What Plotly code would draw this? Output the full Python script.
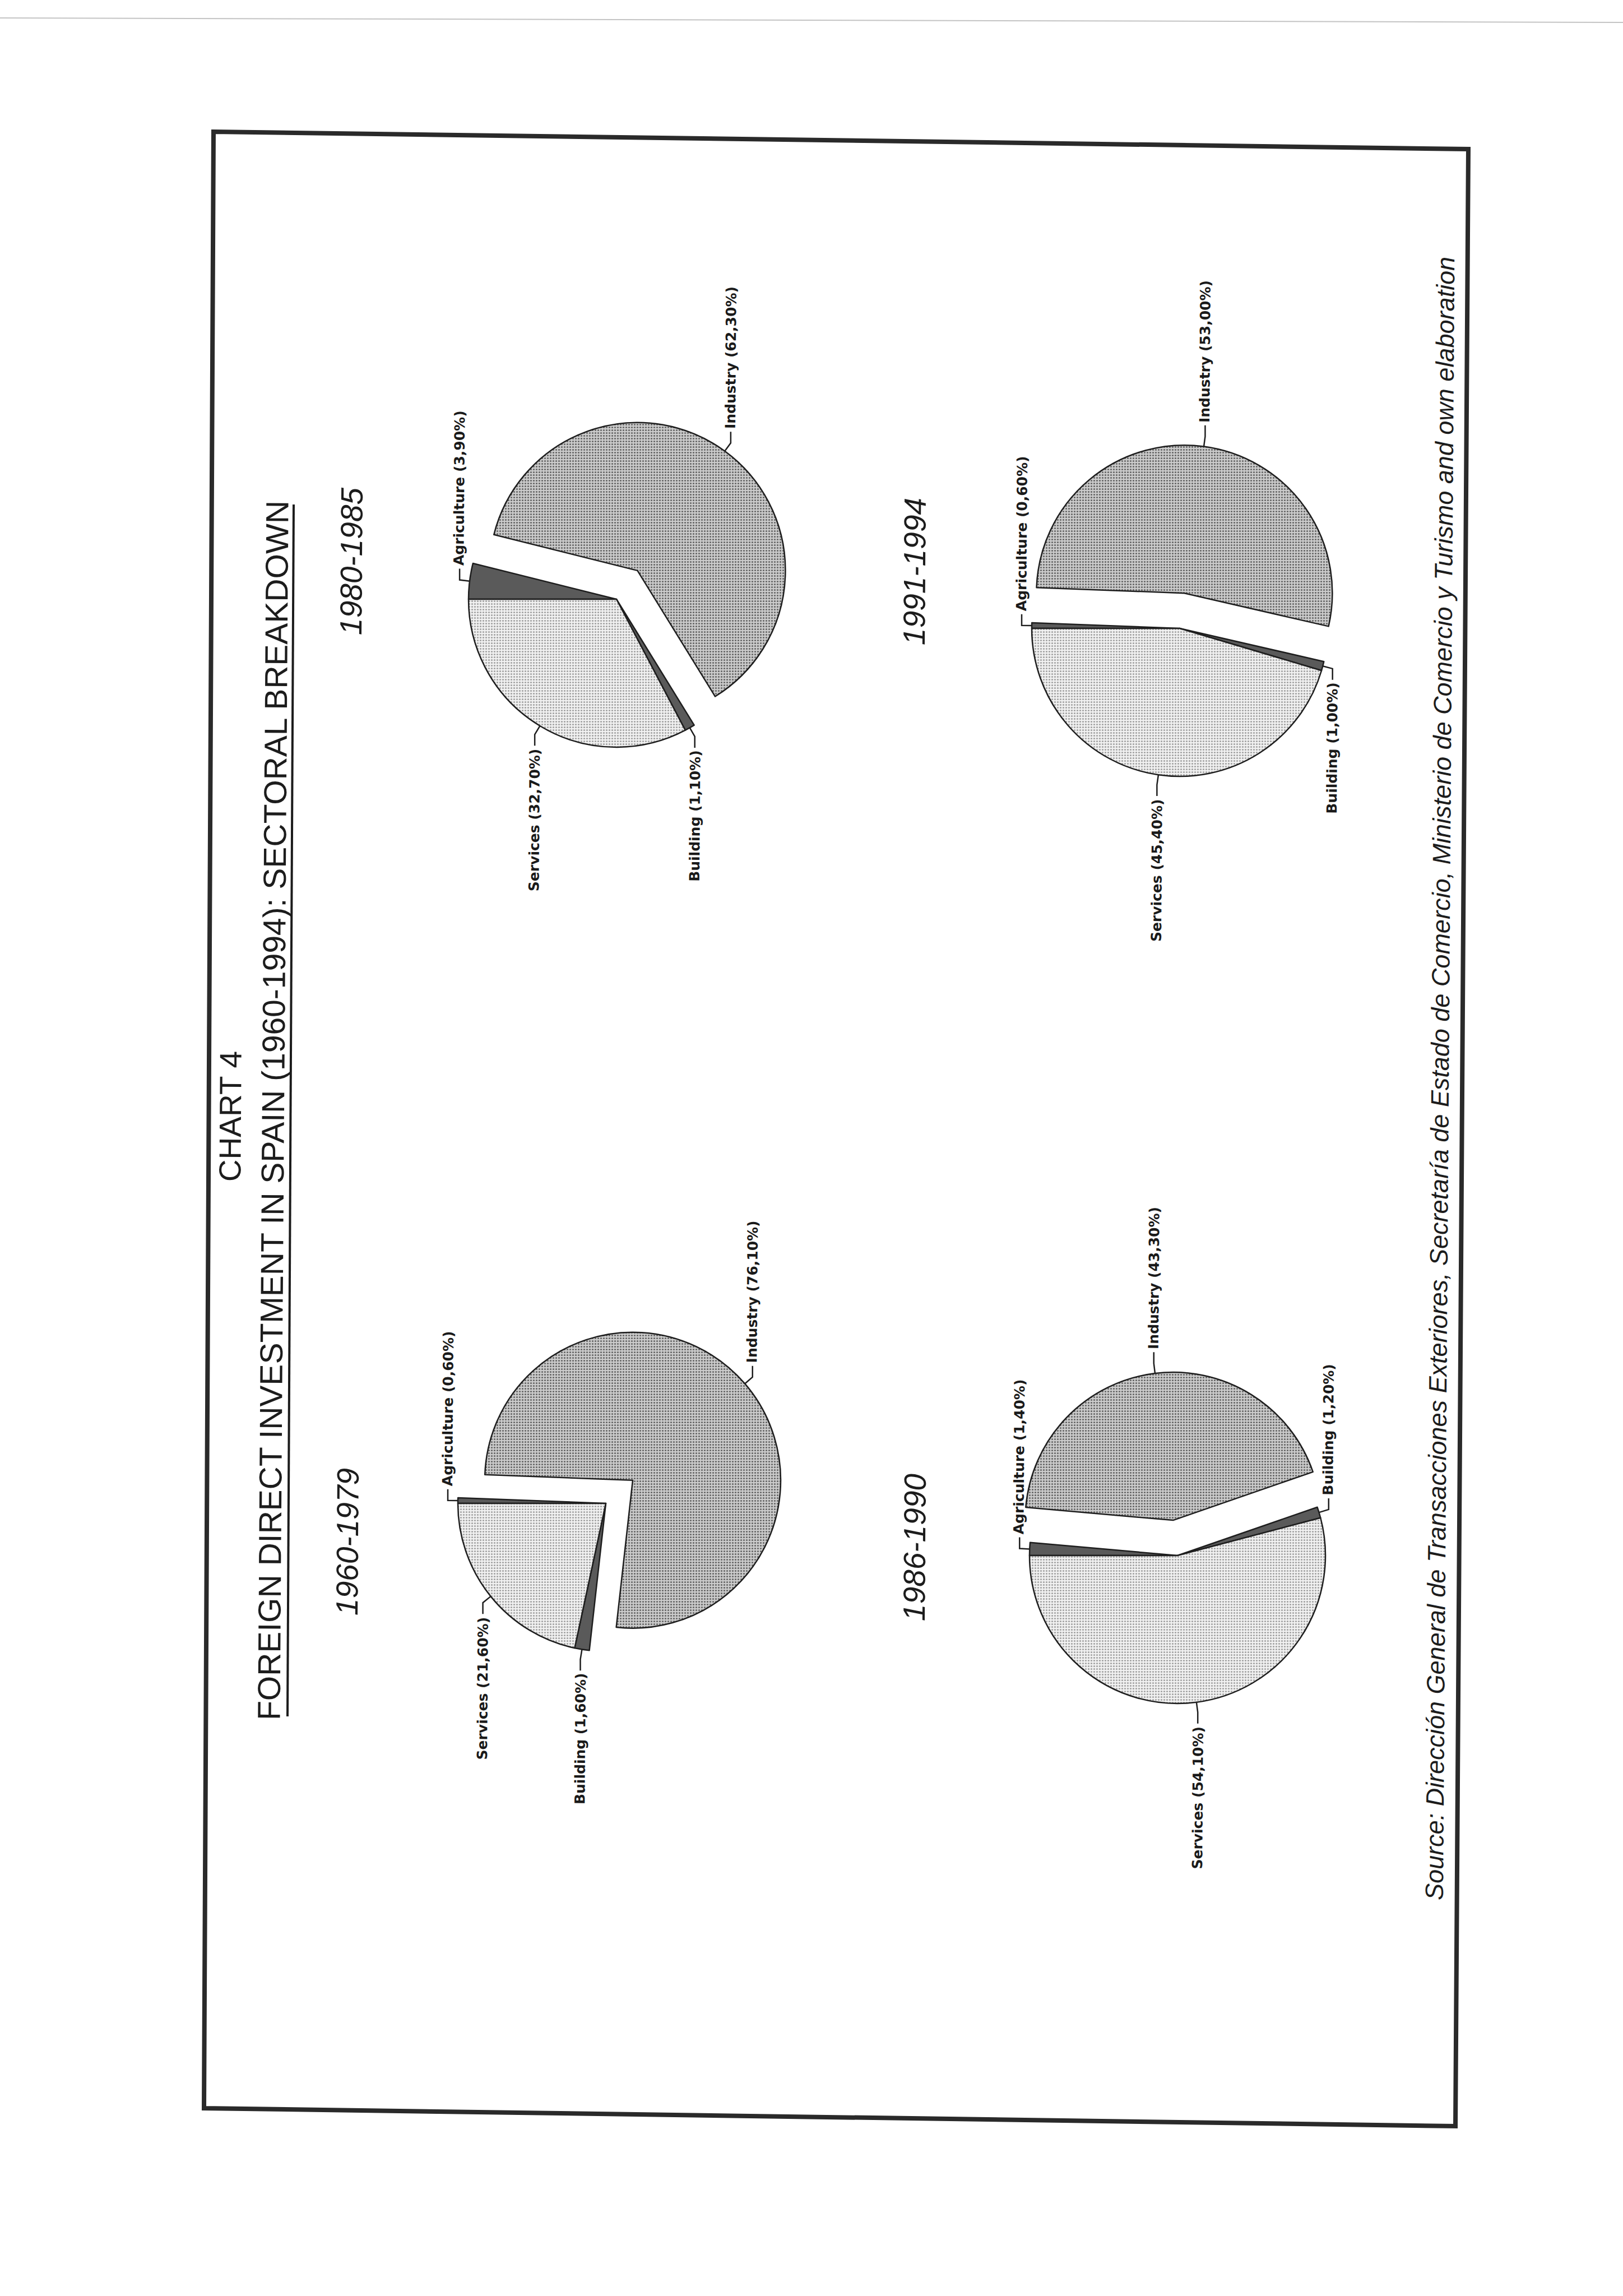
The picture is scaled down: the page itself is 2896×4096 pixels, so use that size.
import math
import plotly.graph_objects as go

W, H = 2896, 4096

# ---------------- data ----------------
periods = ["1960-1979", "1980-1985", "1986-1990", "1991-1994"]
sectors = ["Agriculture", "Industry", "Building", "Services"]
agriculture = [0.6, 3.9, 1.4, 0.6]
industry = [76.1, 62.3, 43.3, 53.0]
building = [1.6, 1.1, 1.2, 1.0]
services = [21.6, 32.7, 54.1, 45.4]

chart_no = "CHART 4"
title = "FOREIGN DIRECT INVESTMENT IN SPAIN (1960-1994): SECTORAL BREAKDOWN"
source = ("Source: Dirección General de Transacciones Exteriores, Secretaría de Estado de "
          "Comercio, Ministerio de Comercio y Turismo and own elaboration")

# ---------------- layout (output pixels, page is a rotated scan) ----------------
centers = [(1081, 2682), (1100, 1069), (2101, 2775), (2105, 1121)]
period_pos = [(620, 2751), (627, 1002), (1632, 2761), (1632, 1020)]
R = 264
PULL = 0.24
START = -90          # first slice starts at 9 o'clock on the page
TILT = -89.6         # text reads bottom-to-top
S1, S2, GAP = 18, 20, 3

def fx(x):
    return x / W

def fy(y):
    return 1 - y / H

fig = go.Figure()

col_fill = {"Agriculture": "#5a5a5a", "Industry": "#b8b8b8", "Building": "#5a5a5a", "Services": "#e4e4e4"}
pat_shape = {"Agriculture": "", "Industry": ".", "Building": "", "Services": "."}
pat_fg = {"Agriculture": "#5a5a5a", "Industry": "#626262", "Building": "#5a5a5a", "Services": "#a0a0a0"}
pat_bg = {"Agriculture": "#5a5a5a", "Industry": "#cbcbcb", "Building": "#5a5a5a", "Services": "#f1f1f1"}

shapes = []
annotations = []

def fmt(v):
    return f"{v:.2f}".replace(".", ",") + "%"

for i, per in enumerate(periods):
    vals = [agriculture[i], industry[i], building[i], services[i]]
    cx, cy = centers[i]
    half = R * (1 + PULL)
    pulls = [PULL if s == "Industry" else 0 for s in sectors]
    fig.add_trace(go.Pie(
        labels=sectors, values=vals, sort=False, direction="clockwise", rotation=START,
        pull=pulls, textinfo="none", hoverinfo="label+value", showlegend=False,
        domain=dict(x=[fx(cx - half), fx(cx + half)], y=[fy(cy + half), fy(cy - half)]),
        marker=dict(colors=[col_fill[s] for s in sectors],
                    line=dict(color="#1e1e1e", width=2.5),
                    pattern=dict(shape=[pat_shape[s] for s in sectors],
                                 fgcolor=[pat_fg[s] for s in sectors],
                                 bgcolor=[pat_bg[s] for s in sectors],
                                 size=5, solidity=0.3, fillmode="replace")),
    ))
    total = sum(vals)
    cum = 0.0
    for s, v, pl in zip(sectors, vals, pulls):
        a0 = START + cum / total * 360.0
        mid = math.radians(a0 + v / total * 180.0)
        cum += v
        ux, uy = math.sin(mid), -math.cos(mid)
        ox, oy = cx + pl * R * ux, cy + pl * R * uy
        p0 = (ox + R * ux, oy + R * uy)
        p1 = (ox + (R + S1) * ux, oy + (R + S1) * uy)
        sgn = 1 if math.cos(mid) > 0 else -1
        p2 = (p1[0], p1[1] - sgn * S2)
        shapes.append(dict(type="path", xref="paper", yref="paper",
                           path=f"M{fx(p0[0])},{fy(p0[1])} L{fx(p1[0])},{fy(p1[1])} L{fx(p2[0])},{fy(p2[1])}",
                           line=dict(color="#1e1e1e", width=2.5)))
        annotations.append(dict(
            text=f"{s} ({fmt(v)})", x=fx(p2[0]), y=fy(p2[1] - sgn * GAP), xref="paper", yref="paper",
            xanchor="center", yanchor="bottom" if sgn > 0 else "top", showarrow=False,
            textangle=TILT, font=dict(family="DejaVu Sans", size=25, color="#1a1a1a", weight="bold")))
    px_, py_ = period_pos[i]
    annotations.append(dict(text=f"<i>{per}</i>", x=fx(px_), y=fy(py_), xref="paper", yref="paper",
                            xanchor="center", yanchor="middle", showarrow=False, textangle=TILT,
                            font=dict(family="Liberation Sans, Arial", size=55, color="#1c1c1c")))

# titles and source
annotations.append(dict(text=chart_no, x=fx(411), y=fy(1992), xref="paper", yref="paper", showarrow=False,
                        xanchor="center", yanchor="middle", textangle=TILT,
                        font=dict(family="Liberation Sans, Arial", size=55, color="#1c1c1c")))
annotations.append(dict(text=title, x=fx(487), y=fy(1981), xref="paper", yref="paper", showarrow=False,
                        xanchor="center", yanchor="middle", textangle=TILT,
                        font=dict(family="Liberation Sans, Arial", size=57, color="#1c1c1c")))
annotations.append(dict(text=f"<i>{source}</i>", x=fx(2569), y=fy(1924), xref="paper", yref="paper",
                        xanchor="center", yanchor="middle", showarrow=False, textangle=TILT,
                        font=dict(family="Liberation Sans, Arial", size=45, color="#1c1c1c")))

# title underline
shapes.append(dict(type="line", xref="paper", yref="paper", x0=fx(513), y0=fy(3062), x1=fx(524), y1=fy(900),
                   line=dict(color="#1c1c1c", width=4)))
# frame (scanned, slightly skewed)
frame = [(381, 235), (2620, 266), (2597, 3793), (364, 3761)]
path = "M" + " L".join(f"{fx(x)},{fy(y)}" for x, y in frame) + " Z"
shapes.append(dict(type="path", xref="paper", yref="paper", path=path,
                   line=dict(color="#2a2a2a", width=8)))
# scanner edge line at top
shapes.append(dict(type="line", xref="paper", yref="paper", x0=0, y0=fy(32), x1=1, y1=fy(40),
                   line=dict(color="#c4c4c4", width=2)))

fig.update_layout(width=W, height=H, margin=dict(l=0, r=0, t=0, b=0),
                  paper_bgcolor="white", plot_bgcolor="white",
                  shapes=shapes, annotations=annotations,
                  font=dict(family="Liberation Sans, Arial", color="#1c1c1c"))
fig.write_html("out.html")
